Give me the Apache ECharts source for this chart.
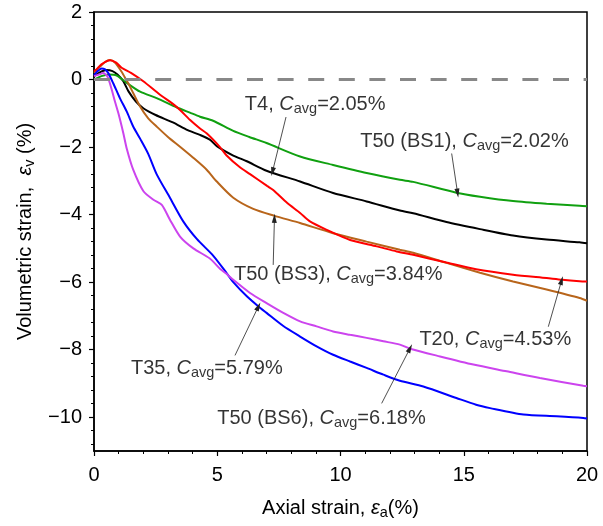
<!DOCTYPE html>
<html><head><meta charset="utf-8">
<script src="https://cdn.jsdelivr.net/npm/echarts@6/dist/echarts.min.js"></script>
<style>html,body{margin:0;padding:0;background:#fff}#c{width:603px;height:526px}</style>
</head><body><div id="c"></div>
<script>
const FONT = '"Liberation Sans", Arial, sans-serif';

// ---- tick values ----
const xMin = 0, xMax = 20, xInterval = 5;
const yMin = -11, yMax = 2;
const yTicks = [-10, -8, -6, -4, -2, 0, 2];
const yMinorTicks = [];
for (let v = -10.8; v < 2; v += 0.4) {
  const r = Math.round(v * 10) / 10;
  if (Math.abs(r / 2 - Math.round(r / 2)) > 1e-6) yMinorTicks.push(r);
}

// ---- series data [axial strain %, volumetric strain %] ----
const seriesNames = ['T4', 'T50 (BS1)', 'T50 (BS3)', 'T20', 'T35', 'T50 (BS6)'];
const seriesColors = ['#000000', '#10a010', '#b8651b', '#ff0000', '#0000ff', '#cc44ee'];

const dataT4 = [[0,0.1],[0.2,0.2],[0.5,0.28],[0.75,0.25],[0.95,0.15],[1.19,-0.05],[1.4,-0.35],[1.7,-0.65],[2.0,-0.85],[2.5,-1.05],[3.2,-1.27],[3.8,-1.5],[4.3,-1.64],[4.7,-1.78],[4.98,-1.97],[5.65,-2.25],[6.2,-2.42],[7.0,-2.7],[8.36,-3.02],[9.7,-3.36],[11.06,-3.61],[12.41,-3.88],[12.95,-3.96],[14.3,-4.22],[15.66,-4.43],[17.0,-4.62],[18.36,-4.74],[19.7,-4.82],[20,-4.85]];
const dataBS1 = [[0,0.0],[0.3,0.1],[0.6,0.15],[0.92,0.12],[1.33,-0.1],[1.87,-0.36],[2.54,-0.55],[3.35,-0.82],[3.89,-0.98],[4.3,-1.1],[4.83,-1.22],[5.65,-1.52],[6.3,-1.7],[7.0,-1.88],[8.36,-2.28],[9.7,-2.53],[11.06,-2.77],[12.41,-2.97],[12.95,-3.03],[14.7,-3.35],[15.66,-3.47],[17.0,-3.6],[18.36,-3.68],[19.7,-3.74],[20,-3.75]];
const dataBS3 = [[0,0.2],[0.2,0.35],[0.45,0.52],[0.65,0.58],[0.85,0.5],[1.12,0.23],[1.3,0.0],[1.46,-0.21],[1.87,-0.8],[2.2,-1.15],[2.54,-1.39],[3.0,-1.7],[3.49,-1.99],[4.0,-2.3],[4.57,-2.67],[4.98,-3.02],[5.65,-3.5],[6.46,-3.83],[7.3,-4.03],[8.36,-4.25],[9.7,-4.55],[11.06,-4.8],[12.41,-5.04],[12.95,-5.13],[14.3,-5.43],[15.66,-5.72],[17.0,-5.98],[18.36,-6.22],[19.7,-6.47],[20,-6.55]];
const dataT20 = [[0,0.25],[0.1,0.3],[0.3,0.45],[0.65,0.57],[0.9,0.5],[1.12,0.35],[1.5,0.2],[2.0,-0.05],[2.68,-0.45],[3.2,-0.72],[3.49,-0.9],[3.9,-1.2],[4.3,-1.45],[4.58,-1.6],[5.11,-2.0],[5.38,-2.25],[5.92,-2.6],[6.33,-2.8],[7.02,-3.15],[7.27,-3.27],[7.83,-3.65],[8.36,-3.95],[8.76,-4.2],[9.44,-4.45],[10.39,-4.75],[11.47,-4.94],[12.28,-5.09],[12.95,-5.19],[14.3,-5.42],[15.5,-5.62],[17.0,-5.78],[18.36,-5.88],[19.0,-5.93],[19.7,-5.97],[20,-5.98]];
const dataT35 = [[0,0.12],[0.15,0.25],[0.31,0.33],[0.45,0.3],[0.58,0.19],[0.78,-0.11],[1.05,-0.55],[1.33,-0.95],[1.59,-1.39],[1.87,-1.75],[2.2,-2.2],[2.54,-2.8],[3.08,-3.5],[3.62,-4.2],[4.17,-4.72],[4.84,-5.22],[5.38,-5.73],[5.65,-6.0],[6.2,-6.42],[6.67,-6.72],[7.0,-6.91],[7.68,-7.3],[8.36,-7.61],[9.03,-7.9],[9.7,-8.15],[10.39,-8.35],[11.06,-8.54],[11.74,-8.74],[12.41,-8.92],[13.36,-9.09],[14.7,-9.43],[15.5,-9.63],[16.07,-9.73],[17.42,-9.92],[18.77,-9.97],[19.85,-10.02],[20,-10.04]];
const dataBS6 = [[0,0.1],[0.2,0.15],[0.38,0.19],[0.55,0.08],[0.7,-0.25],[0.85,-0.65],[0.99,-1.0],[1.19,-1.59],[1.33,-2.05],[1.59,-2.67],[2.0,-3.3],[2.41,-3.56],[2.75,-3.71],[3.08,-4.15],[3.49,-4.65],[4.03,-5.0],[4.7,-5.3],[5.11,-5.6],[5.45,-5.8],[5.65,-5.93],[6.33,-6.32],[7.0,-6.62],[7.68,-6.91],[8.36,-7.16],[9.03,-7.31],[9.7,-7.46],[10.39,-7.56],[11.06,-7.65],[11.74,-7.75],[12.41,-7.85],[12.82,-7.97],[14.04,-8.2],[15.39,-8.44],[16.74,-8.64],[18.09,-8.84],[19.85,-9.07],[20,-9.08]];
const seriesData = [dataT4, dataBS1, dataBS3, dataT20, dataT35, dataBS6];

// ---- annotations ----
const annoNames = ['T4', 'T50 (BS1)', 'T50 (BS3)', 'T20', 'T35', 'T50 (BS6)'];
const annoCavg = ['2.05', '2.02', '3.84', '4.53', '5.79', '6.18'];
const annoPos = [[6.12,-0.75],[10.8,-1.835],[5.68,-5.764],[13.2,-7.71],[1.5,-8.548],[5.0,-10.03]];
const arrowFrom = [[7.79,-1.11],[14.51,-2.19],[7.27,-5.49],[18.43,-7.32],[5.72,-8.17],[11.67,-9.59]];
const arrowTo = [[7.24,-2.73],[14.75,-3.36],[7.32,-4.11],[18.97,-5.95],[6.67,-6.72],[12.82,-7.96]];

const FS = 20;
const SUB = 14.5;
const richStyles = {
  i: { fontStyle: 'italic', fontSize: FS, fontFamily: FONT, color: '#000', lineHeight: 24 },
  s: { fontSize: SUB, fontFamily: FONT, color: '#000', lineHeight: 14, verticalAlign: 'bottom' }
};

const chart = echarts.init(document.getElementById('c'), null, { renderer: 'canvas' });

const lineSeries = seriesNames.map((n, i) => ({
  name: n, type: 'line', data: seriesData[i], showSymbol: false, smooth: 0.25,
  lineStyle: { color: seriesColors[i], width: 2 }, itemStyle: { color: seriesColors[i] },
  z: 3, silent: true
}));

const option = {
  animation: false,
  backgroundColor: '#fff',
  grid: { left: 94, top: 12, right: 16, bottom: 75, show: true, borderColor: '#000', borderWidth: 1.5, backgroundColor: 'transparent' },
  xAxis: {
    type: 'value', min: xMin, max: xMax, interval: xInterval,
    name: 'Axial strain, {i|ε}{s|a}(%)', nameLocation: 'middle', nameGap: 45,
    nameTextStyle: { fontSize: FS, fontFamily: FONT, color: '#000', lineHeight: 24, rich: richStyles },
    axisLine: { onZero: false, lineStyle: { color: '#000', width: 1.5 } },
    axisTick: { inside: false, length: 5, lineStyle: { color: '#000', width: 1.2 } },
    minorTick: { show: true, splitNumber: 5, length: 3, lineStyle: { color: '#000', width: 1 } },
    splitLine: { show: false },
    axisLabel: { fontSize: FS, fontFamily: FONT, color: '#000', margin: 14 }
  },
  yAxis: [{
    type: 'value', min: yMin, max: yMax,
    name: 'Volumetric strain,  {i|ε}{s|v} (%)', nameLocation: 'middle', nameGap: 57, nameRotate: 90,
    nameTextStyle: { fontSize: FS, fontFamily: FONT, color: '#000', lineHeight: 24, rich: richStyles },
    axisLine: { onZero: false, lineStyle: { color: '#000', width: 1.5 } },
    axisTick: { inside: false, length: 5, customValues: yTicks, lineStyle: { color: '#000', width: 1.2 } },
    splitLine: { show: false },
    axisLabel: { customValues: yTicks, fontSize: FS, fontFamily: FONT, color: '#000', margin: 12,
      formatter: v => (v < 0 ? '\u2212' + Math.abs(v) : String(v)) }
  }, {
    type: 'value', min: yMin, max: yMax, position: 'left',
    axisLine: { show: false },
    axisTick: { show: true, inside: false, length: 3, customValues: yMinorTicks, lineStyle: { color: '#000', width: 1 } },
    axisLabel: { show: false }, splitLine: { show: false }
  }],
  series: [{
    name: 'zero', type: 'line', data: [], z: 1, silent: true,
    markLine: { silent: true, symbol: ['none', 'none'], label: { show: false },
      lineStyle: { color: '#888', width: 3, type: [16, 14.6] }, data: [{ yAxis: 0 }] }
  }].concat(lineSeries).concat([{
    name: 'annotations', type: 'scatter', symbolSize: 0, z: 5, silent: true,
    data: annoPos,
    label: {
      show: true, position: 'right', distance: 0, color: '#000', fontSize: FS, fontFamily: FONT, lineHeight: 24,
      formatter: p => annoNames[p.dataIndex] + ', {i|C}{s|avg}=' + annoCavg[p.dataIndex] + '%',
      rich: richStyles
    },
    markLine: {
      silent: true, symbol: ['none', 'triangle'], symbolSize: [5, 9], label: { show: false },
      lineStyle: { color: '#222', width: 0.8, type: 'solid' },
      data: arrowFrom.map((f, i) => [{ coord: f }, { coord: arrowTo[i] }])
    }
  }])
};
chart.setOption(option);
</script></body></html>
